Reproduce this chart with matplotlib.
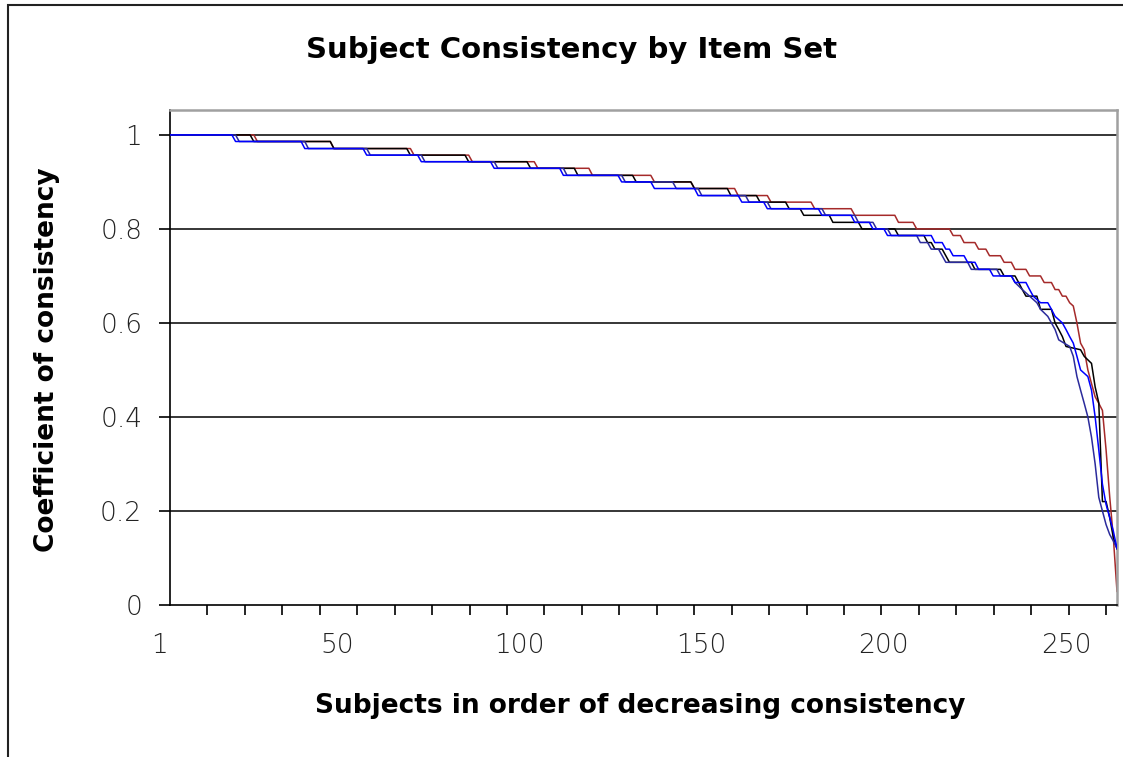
import numpy as np
import matplotlib
matplotlib.use("Agg")
import matplotlib.pyplot as plt
from matplotlib.patches import Rectangle
from matplotlib.transforms import ScaledTranslation

# vertices of each series (subject number, coefficient)
red_x = [1, 24, 25, 45, 46, 67, 68, 83, 84, 101, 102, 116, 117, 133, 134, 144,
         145, 156, 157, 165, 166, 177, 178, 188, 189, 200, 201, 205, 206, 215,
         216, 218, 219, 222, 223, 225, 226, 229, 230, 232, 233, 236, 237, 240,
         241, 243, 244, 245, 246, 247, 248, 249, 250, 251, 252, 253, 254, 255,
         256, 257, 258, 259, 260, 261]
red_y = [1.0, 1.0, 0.986, 0.986, 0.971, 0.971, 0.957, 0.957, 0.943, 0.943,
         0.929, 0.929, 0.914, 0.914, 0.9, 0.9, 0.886, 0.886, 0.871, 0.871,
         0.857, 0.857, 0.843, 0.843, 0.829, 0.829, 0.814, 0.814, 0.8, 0.8,
         0.786, 0.786, 0.771, 0.771, 0.757, 0.757, 0.743, 0.743, 0.729, 0.729,
         0.714, 0.714, 0.7, 0.7, 0.686, 0.686, 0.671, 0.671, 0.657, 0.657,
         0.643, 0.636, 0.6, 0.557, 0.543, 0.5, 0.471, 0.443, 0.429, 0.414,
         0.33, 0.23, 0.143, 0.029]

black_x = [1, 23, 24, 45, 46, 66, 67, 82, 83, 99, 100, 112, 113, 128, 129, 144,
           145, 154, 155, 162, 163, 170, 171, 174, 175, 182, 183, 190, 191, 200,
           201, 208, 209, 210, 211, 213, 214, 215, 221, 222, 229, 230, 233, 234,
           235, 236, 239, 240, 243, 244, 245, 246, 247, 251, 252, 254, 255, 256,
           257, 258, 259, 260, 261]
black_y = [1.0, 1.0, 0.986, 0.986, 0.971, 0.971, 0.957, 0.957, 0.943, 0.943,
           0.929, 0.929, 0.914, 0.914, 0.9, 0.9, 0.886, 0.886, 0.871, 0.871,
           0.857, 0.857, 0.843, 0.843, 0.829, 0.829, 0.814, 0.814, 0.8, 0.8,
           0.786, 0.786, 0.771, 0.771, 0.757, 0.757, 0.743, 0.729, 0.729, 0.714,
           0.714, 0.7, 0.7, 0.686, 0.671, 0.657, 0.657, 0.629, 0.629, 0.6,
           0.586, 0.571, 0.55, 0.543, 0.529, 0.514, 0.464, 0.43, 0.22, 0.22,
           0.186, 0.143, 0.12]

blue_x = [1, 18, 19, 37, 38, 54, 55, 69, 70, 89, 90, 108, 109, 124, 125, 133,
          134, 145, 146, 157, 158, 164, 165, 179, 180, 188, 189, 193, 194, 197,
          198, 210, 211, 213, 214, 215, 216, 219, 220, 222, 223, 226, 227, 232,
          233, 236, 237, 238, 240, 242, 243, 244, 246, 247, 248, 249, 250, 251,
          253, 254, 255, 256, 257, 258, 259, 260, 261]
blue_y = [1.0, 1.0, 0.986, 0.986, 0.971, 0.971, 0.957, 0.957, 0.943, 0.943,
          0.929, 0.929, 0.914, 0.914, 0.9, 0.9, 0.886, 0.886, 0.871, 0.871,
          0.857, 0.857, 0.843, 0.843, 0.829, 0.829, 0.814, 0.814, 0.8, 0.8,
          0.786, 0.786, 0.771, 0.771, 0.757, 0.757, 0.743, 0.743, 0.729, 0.729,
          0.714, 0.714, 0.7, 0.7, 0.686, 0.686, 0.671, 0.657, 0.643, 0.643,
          0.629, 0.614, 0.6, 0.586, 0.571, 0.557, 0.529, 0.5, 0.486, 0.457,
          0.4, 0.33, 0.257, 0.214, 0.186, 0.157, 0.12]

navy_x = [1, 19, 20, 38, 39, 55, 56, 70, 71, 90, 91, 109, 110, 125, 126, 139,
          140, 146, 147, 159, 160, 165, 166, 180, 181, 189, 190, 194, 195, 198,
          199, 206, 207, 209, 210, 212, 213, 214, 220, 221, 228, 229, 232, 233,
          235, 237, 239, 240, 242, 243, 244, 245, 248, 249, 250, 251, 252, 253,
          254, 255, 256, 257, 258, 259, 260, 261]
navy_y = [1.0, 1.0, 0.986, 0.986, 0.971, 0.971, 0.957, 0.957, 0.943, 0.943,
          0.929, 0.929, 0.914, 0.914, 0.9, 0.9, 0.886, 0.886, 0.871, 0.871,
          0.857, 0.857, 0.843, 0.843, 0.829, 0.829, 0.814, 0.814, 0.8, 0.8,
          0.786, 0.786, 0.771, 0.771, 0.757, 0.757, 0.743, 0.729, 0.729, 0.714,
          0.714, 0.7, 0.7, 0.686, 0.671, 0.657, 0.643, 0.629, 0.614, 0.6,
          0.586, 0.564, 0.55, 0.529, 0.486, 0.457, 0.429, 0.4, 0.357, 0.3,
          0.229, 0.2, 0.171, 0.15, 0.136, 0.12]

x_labels = [1, 50, 100, 150, 200, 250]
y_ticks = [0, 0.2, 0.4, 0.6, 0.8, 1.0]
y_labels = ["0", "0.2", "0.4", "0.6", "0.8", "1"]

fig = plt.figure(figsize=(11.23, 7.57), dpi=100)
ax = fig.add_axes([170 / 1123, 152 / 757, 947 / 1123, 495 / 757])

# outer chart frame (cut off on the right and bottom like the original)
fig.add_artist(Rectangle((8 / 1123, -0.1), 2.0, 1.1 - 5 / 757, transform=fig.transFigure,
                         fill=False, ec="#222222", lw=1.5))

for yv in y_ticks[1:]:
    ax.axhline(yv, color="black", lw=1.1, zorder=1)

ax.plot(red_x, red_y, color="#a52a2a", lw=1.1, zorder=2)
ax.plot(black_x, black_y, color="black", lw=1.1, zorder=3)
ax.plot(navy_x, navy_y, color="#2b2b9c", lw=1.1, zorder=4)
ax.plot(blue_x, blue_y, color="#0000ff", lw=1.1, zorder=5)

ax.set_xlim(1, 261)
ax.set_ylim(0, 1.053)

tick_font = dict(fontsize=19, color="#222222", fontweight="light")
ax.set_xticks(x_labels)
ax.set_xticklabels([str(v) for v in x_labels], **tick_font)
ax.set_xticks(np.arange(1, 262, 10.28), minor=True)
ax.tick_params(axis="x", which="major", length=0, pad=20)
ax.tick_params(axis="x", which="minor", length=7, width=1.2, direction="out", color="black")
shift = ScaledTranslation(-11 / 100, 0, fig.dpi_scale_trans)
for lab in ax.get_xticklabels():
    lab.set_transform(lab.get_transform() + shift)

ax.set_yticks(y_ticks)
ax.set_yticklabels(y_labels, **tick_font)
ax.tick_params(axis="y", length=8, width=1.2, direction="out", pad=12, color="black")

for side in ["top", "right"]:
    ax.spines[side].set_color("#a0a0a0")
    ax.spines[side].set_linewidth(1.8)
for side in ["left", "bottom"]:
    ax.spines[side].set_color("black")
    ax.spines[side].set_linewidth(1.2)

fig.text(572 / 1123, 1 - 50 / 757, "Subject Consistency by Item Set",
         ha="center", va="center", fontsize=21, fontweight="bold")
fig.text(640 / 1123, 1 - 706 / 757, "Subjects in order of decreasing consistency",
         ha="center", va="center", fontsize=19, fontweight="bold")
fig.text(47 / 1123, 1 - 360 / 757, "Coefficient of consistency",
         ha="center", va="center", rotation=90, fontsize=19, fontweight="bold")

fig.savefig("out.png", dpi=100)
